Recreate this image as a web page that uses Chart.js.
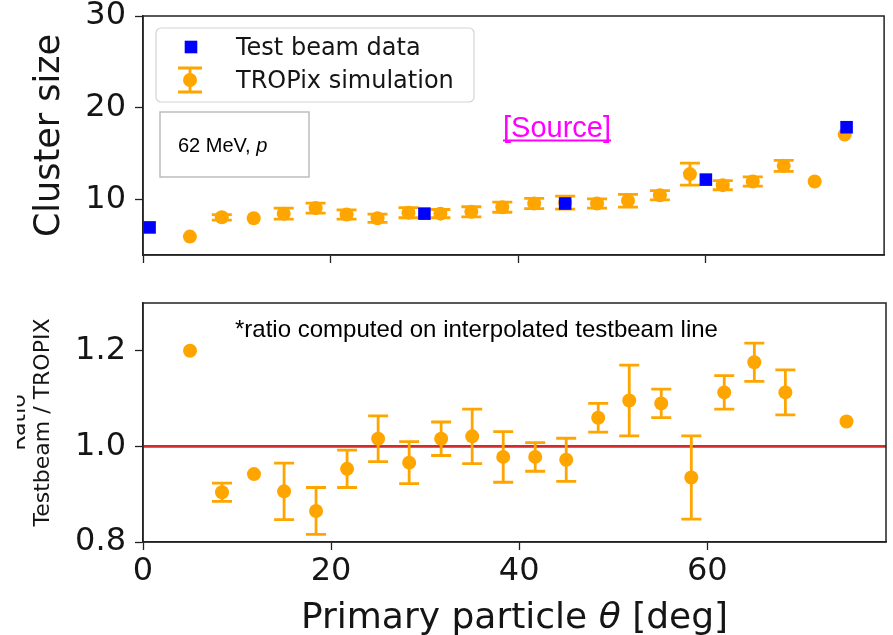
<!DOCTYPE html>
<html>
<head>
<meta charset="utf-8">
<script src="https://cdn.jsdelivr.net/npm/chart.js@4.4.0/dist/chart.umd.min.js"></script>
<style>
  body { margin: 0; background: #fff; }
  #wrap { position: relative; width: 893px; height: 635px; overflow: hidden; }
  canvas { position: absolute; left: 0; }
  #topChart { top: 0; }
  #ratioChart { top: 285px; }
</style>
</head>
<body>
<div id="wrap">
  <canvas id="topChart" width="893" height="285"></canvas>
  <canvas id="ratioChart" width="893" height="350"></canvas>
</div>
<script>
// values
const simTheta = [5, 8.4, 11.8, 15, 18.4, 21.7, 25, 28.3, 31.7, 35, 38.3, 41.7, 45, 48.4, 51.7, 55.1, 58.3, 61.8, 65, 68.3, 71.6, 74.8];
const simCluster = [6.0, 8.1, 8.0, 8.5, 9.1, 8.4, 8.0, 8.6, 8.5, 8.7, 9.2, 9.6, 9.7, 9.6, 9.9, 10.5, 12.8, 11.6, 12.0, 13.7, 12.0, 17.1];
const simClusterErr = [0, 0.3, 0, 0.6, 0.55, 0.5, 0.45, 0.55, 0.45, 0.55, 0.55, 0.55, 0.7, 0.5, 0.7, 0.5, 1.2, 0.5, 0.5, 0.6, 0, 0];

const beamTheta = [0.7, 30, 45, 60, 75];
const beamCluster = [7.0, 8.5, 9.6, 12.2, 17.9];

const ratioTheta = [5, 8.4, 11.8, 15, 18.4, 21.7, 25, 28.3, 31.7, 35, 38.3, 41.7, 45, 48.4, 51.7, 55.1, 58.3, 61.8, 65, 68.3, 74.8];
const ratioValues = [1.2, 0.904, 0.942, 0.906, 0.865, 0.953, 1.016, 0.966, 1.016, 1.021, 0.978, 0.978, 0.972, 1.06, 1.096, 1.09, 0.935, 1.113, 1.176, 1.113, 1.052];
const ratioErr = [0, 0.019, 0, 0.059, 0.049, 0.039, 0.048, 0.044, 0.035, 0.057, 0.053, 0.03, 0.045, 0.03, 0.074, 0.03, 0.087, 0.035, 0.04, 0.047, 0];

const refTheta = [0, 79];
const refRatio = [1, 1];

const xTicks = [0, 20, 40, 60];
const clusterTicks = [10, 20, 30];
const ratioTicks = [0.8, 1.0, 1.2];

const ORANGE = "#ffa500";
const BLUE = "#0000ff";
const INK = "#151515";
const SANS = "'DejaVu Sans', sans-serif";
const ARIAL = "'Liberation Sans', Arial, sans-serif";

Chart.defaults.font.family = SANS;
Chart.defaults.color = INK;

function toPoints(xs, ys) {
  return xs.map((x, i) => ({ x, y: ys[i] }));
}

// error bars are drawn just before the dataset's own markers
const errorBarPlugin = {
  id: "errorBars",
  beforeDatasetDraw(chart, args) {
    const ds = chart.data.datasets[args.index];
    if (!ds.errorBars) return;
    const ctx = chart.ctx;
    const xs = chart.scales.x;
    const ys = chart.scales.y;
    const cap = 10;
    ctx.save();
    ctx.strokeStyle = ds.backgroundColor;
    ctx.lineWidth = 2.8;
    ds.data.forEach((p, i) => {
      const e = ds.errorBars[i];
      if (!e) return;
      const x = xs.getPixelForValue(p.x);
      const y1 = ys.getPixelForValue(p.y - e);
      const y2 = ys.getPixelForValue(p.y + e);
      ctx.beginPath();
      ctx.moveTo(x, y1);
      ctx.lineTo(x, y2);
      ctx.moveTo(x - cap, y1);
      ctx.lineTo(x + cap, y1);
      ctx.moveTo(x - cap, y2);
      ctx.lineTo(x + cap, y2);
      ctx.stroke();
    });
    ctx.restore();
  },
};

const framePlugin = {
  id: "frame",
  afterDraw(chart) {
    const { left, top, right, bottom } = chart.chartArea;
    const ctx = chart.ctx;
    ctx.save();
    ctx.strokeStyle = "#222";
    ctx.lineWidth = 1.5;
    ctx.strokeRect(left, top, right - left, bottom - top);
    ctx.restore();
  },
};

const topTextPlugin = {
  id: "topText",
  afterDraw(chart) {
    const ctx = chart.ctx;
    const [beam, sim] = chart.data.datasets;
    ctx.save();

    // legend
    ctx.beginPath();
    ctx.roundRect(156, 28, 318, 74, 5);
    ctx.fillStyle = "rgba(255,255,255,0.85)";
    ctx.fill();
    ctx.strokeStyle = "#d4d4d4";
    ctx.lineWidth = 1.2;
    ctx.stroke();

    ctx.fillStyle = beam.backgroundColor;
    ctx.fillRect(191 - 6.3, 47 - 6.3, 12.6, 12.6);

    ctx.strokeStyle = sim.backgroundColor;
    ctx.lineWidth = 2.8;
    ctx.beginPath();
    ctx.moveTo(190, 68); ctx.lineTo(190, 92);
    ctx.moveTo(178, 68); ctx.lineTo(202, 68);
    ctx.moveTo(178, 92); ctx.lineTo(202, 92);
    ctx.stroke();
    ctx.fillStyle = sim.backgroundColor;
    ctx.beginPath();
    ctx.arc(190, 80, 7, 0, Math.PI * 2);
    ctx.fill();

    ctx.fillStyle = INK;
    ctx.font = "24px " + SANS;
    ctx.textBaseline = "alphabetic";
    ctx.fillText(beam.label, 236, 55);
    ctx.fillText(sim.label, 236, 88);

    // beam energy box
    ctx.fillStyle = "#fff";
    ctx.fillRect(160, 112, 149, 65);
    ctx.strokeStyle = "#bdbdbd";
    ctx.lineWidth = 1.5;
    ctx.strokeRect(160, 112, 149, 65);
    ctx.fillStyle = "#000";
    ctx.font = "20px " + ARIAL;
    const lead = "62 MeV, ";
    ctx.fillText(lead, 178, 152);
    const w = ctx.measureText(lead).width;
    ctx.font = "italic 20px " + ARIAL;
    ctx.fillText("p", 178 + w, 152);

    // source link
    ctx.font = "29px " + ARIAL;
    ctx.fillStyle = "#ff00ff";
    ctx.fillText("[Source]", 503, 137);
    const sw = ctx.measureText("[Source]").width;
    ctx.strokeStyle = "#ff00ff";
    ctx.lineWidth = 2;
    ctx.beginPath();
    ctx.moveTo(503, 140.5);
    ctx.lineTo(503 + sw, 140.5);
    ctx.stroke();

    ctx.restore();
  },
};

const ratioTextPlugin = {
  id: "ratioText",
  afterDraw(chart) {
    const ctx = chart.ctx;
    const area = chart.chartArea;
    ctx.save();
    ctx.fillStyle = "#000";
    ctx.font = "24px " + ARIAL;
    ctx.textBaseline = "alphabetic";
    ctx.fillText("*ratio computed on interpolated testbeam line", 235, 337 - 285);

    // x axis title with italic theta
    const parts = [
      ["Primary particle ", "36px " + SANS],
      ["\u03B8", "italic 36px " + SANS],
      [" [deg]", "36px " + SANS],
    ];
    let total = 0;
    parts.forEach(([t, f]) => { ctx.font = f; total += ctx.measureText(t).width; });
    let x = (area.left + area.right) / 2 - total / 2;
    ctx.fillStyle = INK;
    parts.forEach(([t, f]) => {
      ctx.font = f;
      ctx.fillText(t, x, 628 - 285);
      x += ctx.measureText(t).width;
    });
    ctx.restore();
  },
};

// the "Ratio" line of the y title is cut off at the left of the figure
const clipPlugin = {
  id: "leftClip",
  beforeDraw(chart) {
    const ctx = chart.ctx;
    ctx.save();
    ctx.beginPath();
    ctx.rect(17, 0, chart.width, chart.height);
    ctx.clip();
  },
  afterDraw(chart) {
    chart.ctx.restore();
  },
};

function noOverflow(s) {
  s.paddingTop = 0;
  s.paddingBottom = 0;
  s.paddingLeft = 0;
  s.paddingRight = 0;
}

function xScale(showLabels, height) {
  return {
    type: "linear",
    min: 0,
    max: 79,
    afterBuildTicks: (s) => { s.ticks = xTicks.map((v) => ({ value: v })); },
    afterFit: (s) => { s.height = height; noOverflow(s); },
    ticks: {
      display: showLabels,
      font: { size: 32 },
      color: INK,
      padding: 2,
      maxRotation: 0,
      callback: (v) => String(v),
    },
    grid: {
      drawOnChartArea: false,
      drawTicks: true,
      tickLength: 8,
      tickColor: "#222",
      tickWidth: 1.3,
    },
    border: { display: true, color: "#222", width: 1.5 },
  };
}

function yScale(min, max, tickValues, fmt, title) {
  return {
    type: "linear",
    min,
    max,
    afterBuildTicks: (s) => { s.ticks = tickValues.map((v) => ({ value: v })); },
    afterFit: (s) => { s.width = 143; noOverflow(s); },
    ticks: {
      font: { size: 32 },
      color: INK,
      padding: 9,
      callback: fmt,
    },
    grid: {
      drawOnChartArea: false,
      drawTicks: true,
      tickLength: 8,
      tickColor: "#222",
      tickWidth: 1.3,
    },
    border: { display: true, color: "#222", width: 1.5 },
    title,
  };
}

const commonOptions = {
  responsive: false,
  animation: false,
  events: [],
  plugins: { legend: { display: false }, tooltip: { enabled: false } },
};

new Chart(document.getElementById("topChart"), {
  type: "scatter",
  data: {
    datasets: [
      {
        label: "Test beam data",
        data: toPoints(beamTheta, beamCluster),
        backgroundColor: BLUE,
        pointStyle: "rect",
        pointRadius: 8.9,
        pointBorderWidth: 0,
      },
      {
        label: "TROPix simulation",
        data: toPoints(simTheta, simCluster),
        errorBars: simClusterErr,
        backgroundColor: ORANGE,
        pointRadius: 7,
        pointBorderWidth: 0,
      },
    ],
  },
  options: {
    ...commonOptions,
    layout: { padding: { top: 16, right: 5, left: 0, bottom: 0 } },
    scales: {
      x: xScale(false, 30),
      y: yScale(4, 30, clusterTicks, (v) => String(v), {
        display: true,
        text: "Cluster size",
        font: { size: 35 },
        color: INK,
        padding: { top: 29, bottom: 0 },
      }),
    },
  },
  plugins: [errorBarPlugin, framePlugin, topTextPlugin],
});

new Chart(document.getElementById("ratioChart"), {
  type: "scatter",
  data: {
    datasets: [
      {
        label: "Ratio",
        data: toPoints(ratioTheta, ratioValues),
        errorBars: ratioErr,
        backgroundColor: ORANGE,
        pointRadius: 7,
        pointBorderWidth: 0,
      },
      {
        label: "Unity",
        data: toPoints(refTheta, refRatio),
        showLine: true,
        borderColor: "#d42a2a",
        borderWidth: 2.6,
        pointRadius: 0,
      },
    ],
  },
  options: {
    ...commonOptions,
    layout: { padding: { top: 18, right: 5, left: 0, bottom: 0 } },
    scales: {
      x: xScale(true, 93),
      y: yScale(0.8, 1.3, ratioTicks, (v) => v.toFixed(1), {
        display: true,
        text: ["Ratio", "Testbeam / TROPIX"],
        font: { size: 22, lineHeight: 1.09 },
        color: INK,
        padding: { top: 7, bottom: 0 },
      }),
    },
  },
  plugins: [errorBarPlugin, framePlugin, ratioTextPlugin, clipPlugin],
});
</script>
</body>
</html>
